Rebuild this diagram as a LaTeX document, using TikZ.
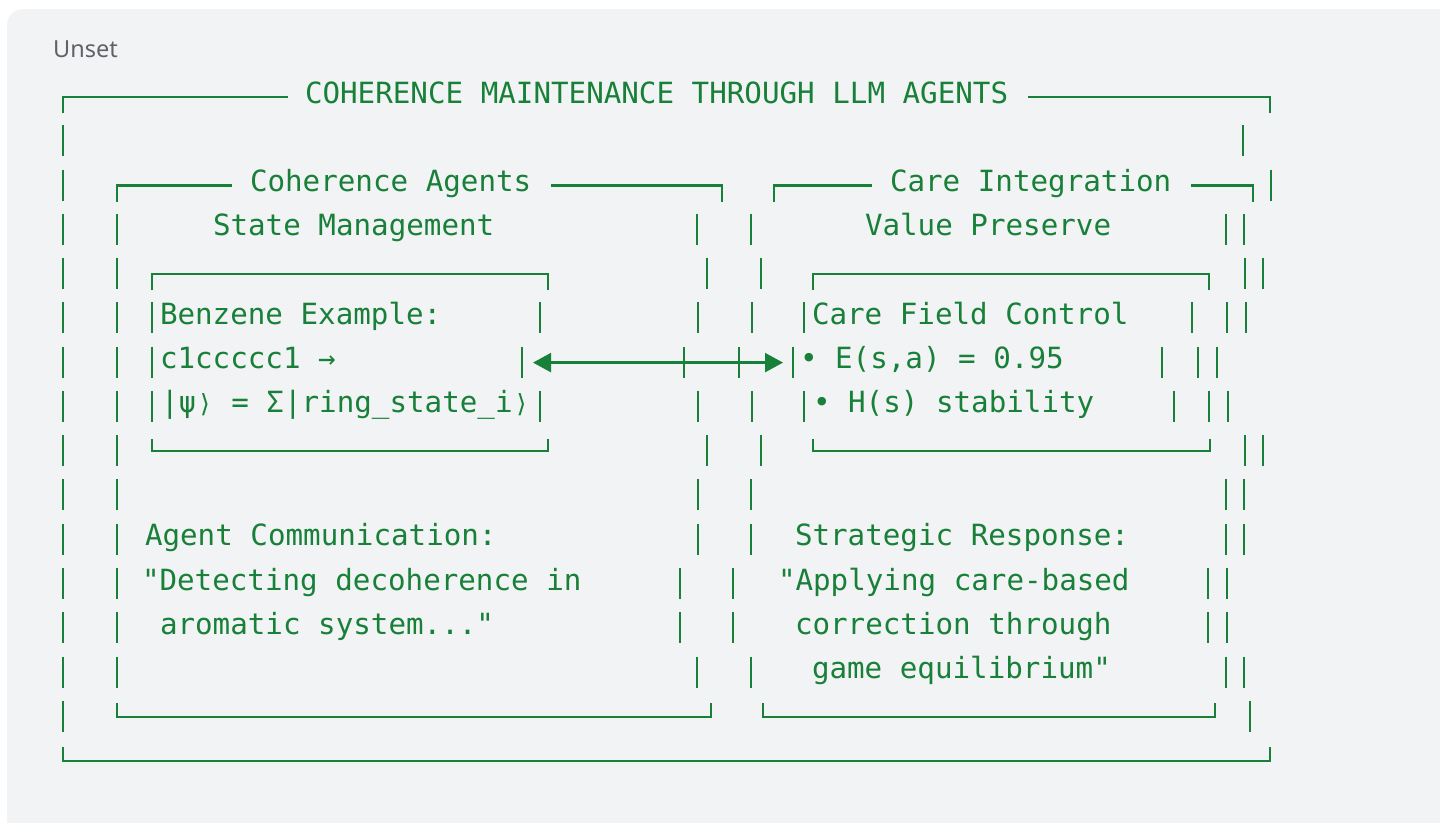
\documentclass[tikz,border=0pt]{standalone}
\usepackage{fontspec}
\usetikzlibrary{arrows.meta}
\newfontfamily\codefont{DejaVu Sans Mono}
\newfontfamily\symfont{DejaVu Sans}
\newfontfamily\uifont{Noto Sans}
\definecolor{codegreen}{HTML}{188038}
\definecolor{codebg}{HTML}{F1F3F4}
\definecolor{labelgray}{HTML}{5F6368}
\newcommand\ket{\makebox[17.6pt]{\symfont\fontsize{25}{25}\selectfont ⟩}}
\begin{document}
\begin{tikzpicture}[x=1pt,y=-1pt,
  txt/.style={anchor=base west,inner sep=0pt,outer sep=0pt,text=codegreen,
    font=\codefont\fontsize{29.2}{35}\selectfont},
  ln/.style={draw=codegreen,line width=2.3pt,line cap=butt,line join=miter},
  biarrow/.style={{Triangle[length=18pt,width=19pt]}-{Triangle[length=18pt,width=19pt]}}
]
\useasboundingbox (0,0) rectangle (1440,822);
\clip (0,0) rectangle (1440,822);
\fill[codebg,rounded corners=16pt] (7,9) rectangle (1456,840);
\node[anchor=base west,inner sep=0pt,text=labelgray,font=\uifont\fontsize{23.5}{28}\selectfont] (lang) at (53,57) {Unset};

% vertical bars, one per text row
\foreach \r/\xs in {
  1/{63,1243},
  2/{63,1271},
  3/{63,117,697,751,1226,1244},
  4/{63,117,707,761,1245,1263},
  5/{63,117,152,540,698,752,804,1192,1227,1246},
  6/{63,117,152,522,684,739,793,1162,1198,1217},
  7/{63,117,152,540,698,752,804,1174,1209,1228},
  8/{63,117,707,761,1245,1263},
  9/{63,117,698,751,1226,1244},
  10/{63,117,698,751,1226,1244},
  11/{63,117,680,733,1208,1227},
  12/{63,117,680,733,1208,1227},
  13/{63,117,697,751,1226,1244},
  14/{63,1250}}{
  \pgfmathsetmacro\cy{97+44.27*\r}
  \foreach \x in \xs {\draw[ln] (\x,\cy-16) -- (\x,\cy+15);}
}

% row 0: outer top
\draw[ln] (63,113) -- (63,97) -- (288,97);
\draw[ln] (1028,97) -- (1270,97) -- (1270,113);
\node[txt] (title) at (305,103) {COHERENCE MAINTENANCE THROUGH LLM AGENTS};

% row 2: inner tops
\draw[ln] (117,201.5) -- (117,185.5) -- (232,185.5);
\node[txt] (agents) at (250,191.5) {Coherence Agents};
\draw[ln] (551,185.5) -- (722,185.5) -- (722,201.5);
\draw[ln] (774,201.5) -- (774,185.5) -- (872,185.5);
\node[txt] (care) at (890,191.5) {Care Integration};
\draw[ln] (1191,185.5) -- (1253,185.5) -- (1253,201.5);

% row 3
\node[txt] (state) at (213,235.8) {State Management};
\node[txt] (value) at (865,235.8) {Value Preserve};

% row 4: small box tops
\draw[ln] (152,290) -- (152,274.1) -- (548,274.1) -- (548,290);
\draw[ln] (813,290) -- (813,274.1) -- (1209,274.1) -- (1209,290);

% rows 5-7
\node[txt] (benz) at (160,324.4) {Benzene Example:};
\node[txt] (cfc) at (812,324.4) {Care Field Control};
\node[txt] (smiles) at (160,368.6) {c1ccccc1 →};
\node[txt] (eval) at (800,368.6) {• E(s,a) = 0.95};
\node[txt] (psi) at (161,412.9) {|ψ\ket{} = Σ|ring\_state\_i\ket};
\node[txt] (hval) at (813,412.9) {• H(s) stability};

% arrow between the two small boxes
\coordinate (al) at (533,362.6);
\coordinate (ar) at (783,362.6);
\draw[ln,biarrow] (al) -- (ar);

% row 8: small box bottoms
\draw[ln] (152,439) -- (152,451.2) -- (548,451.2) -- (548,439);
\draw[ln] (813,439) -- (813,451.2) -- (1210,451.2) -- (1210,439);

% rows 10-13
\node[txt] (comm) at (145,545.7) {Agent Communication:};
\node[txt] (strat) at (795,545.7) {Strategic Response:};
\node[txt] (det) at (142,590) {"Detecting decoherence in};
\node[txt] (apply) at (778,590) {"Applying care-based};
\node[txt] (arom) at (160,634.2) {aromatic system..."};
\node[txt] (corr) at (795,634.2) {correction through};
\node[txt] (game) at (812,678.5) {game equilibrium"};

% row 14: inner bottoms
\draw[ln] (117,703) -- (117,716.8) -- (711,716.8) -- (711,703);
\draw[ln] (763,703) -- (763,716.8) -- (1215,716.8) -- (1215,703);

% row 15: outer bottom
\draw[ln] (63,747) -- (63,761.1) -- (1270,761.1) -- (1270,747);
\end{tikzpicture}
\end{document}
